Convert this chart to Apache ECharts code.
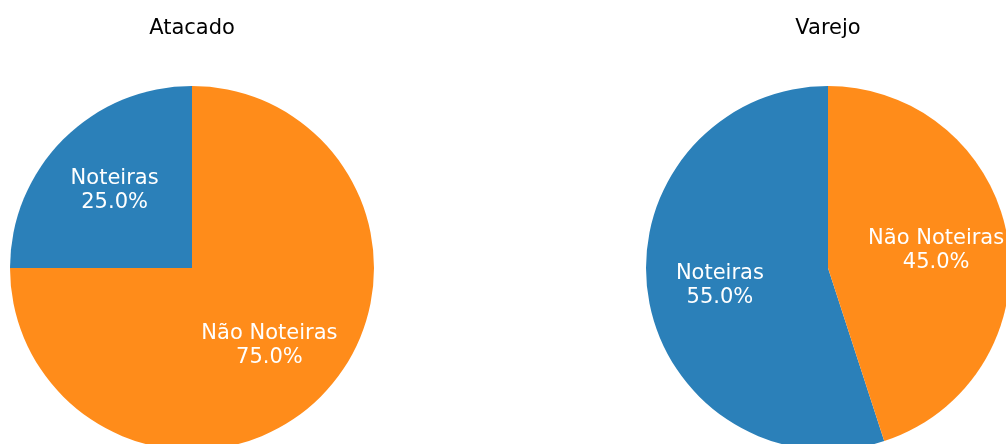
<!DOCTYPE html>
<html>
<head>
<meta charset="utf-8">
<script src="https://cdn.jsdelivr.net/npm/echarts@6/dist/echarts.min.js"></script>
<style>
  html, body { margin: 0; padding: 0; background: #ffffff; }
  #chart { width: 1006px; height: 444px; }
</style>
</head>
<body>
<div id="chart"></div>
<script>
// Share of "noteiras" per sales channel (percent)
const categories = ['Noteiras', 'Não Noteiras'];
const titles = ['Atacado', 'Varejo'];
const atacadoValues = [25.0, 75.0];
const varejoValues = [55.0, 45.0];

const colors = ['#2b80b9', '#ff8c1a'];
const FONT = 'DejaVu Sans';
const R = 182;
const centers = [[192, 268], [828, 268]];

function toData(values, transparent) {
  return categories.map((name, i) => ({
    name: name,
    value: values[i],
    itemStyle: { color: transparent ? 'rgba(0,0,0,0)' : colors[i] }
  }));
}

const seriesList = [];
[atacadoValues, varejoValues].forEach((values, k) => {
  // filled wedges
  seriesList.push({
    type: 'pie',
    center: centers[k],
    radius: [0, R],
    startAngle: 90,
    clockwise: false,
    silent: true,
    label: { show: false },
    labelLine: { show: false },
    data: toData(values, false)
  });
  // label ring: its inner radius pulls the "inside" labels to about 0.6 R
  seriesList.push({
    type: 'pie',
    center: centers[k],
    radius: [R * 0.17, R],
    startAngle: 90,
    clockwise: false,
    silent: true,
    label: {
      show: true,
      position: 'inside',
      color: '#ffffff',
      fontFamily: FONT,
      fontSize: 21,
      lineHeight: 24,
      align: 'center',
      formatter: p => p.name + '\n' + p.value.toFixed(1) + '%'
    },
    labelLine: { show: false },
    data: toData(values, true)
  });
});

const chart = echarts.init(document.getElementById('chart'), null, { renderer: 'canvas' });
chart.setOption({
  backgroundColor: '#ffffff',
  animation: false,
  title: titles.map((t, k) => ({
    text: t,
    left: centers[k][0] - 5,
    top: 13,
    textAlign: 'center',
    textStyle: { fontFamily: FONT, fontSize: 21, fontWeight: 'normal', color: '#000000' }
  })),
  series: seriesList
});
</script>
</body>
</html>
